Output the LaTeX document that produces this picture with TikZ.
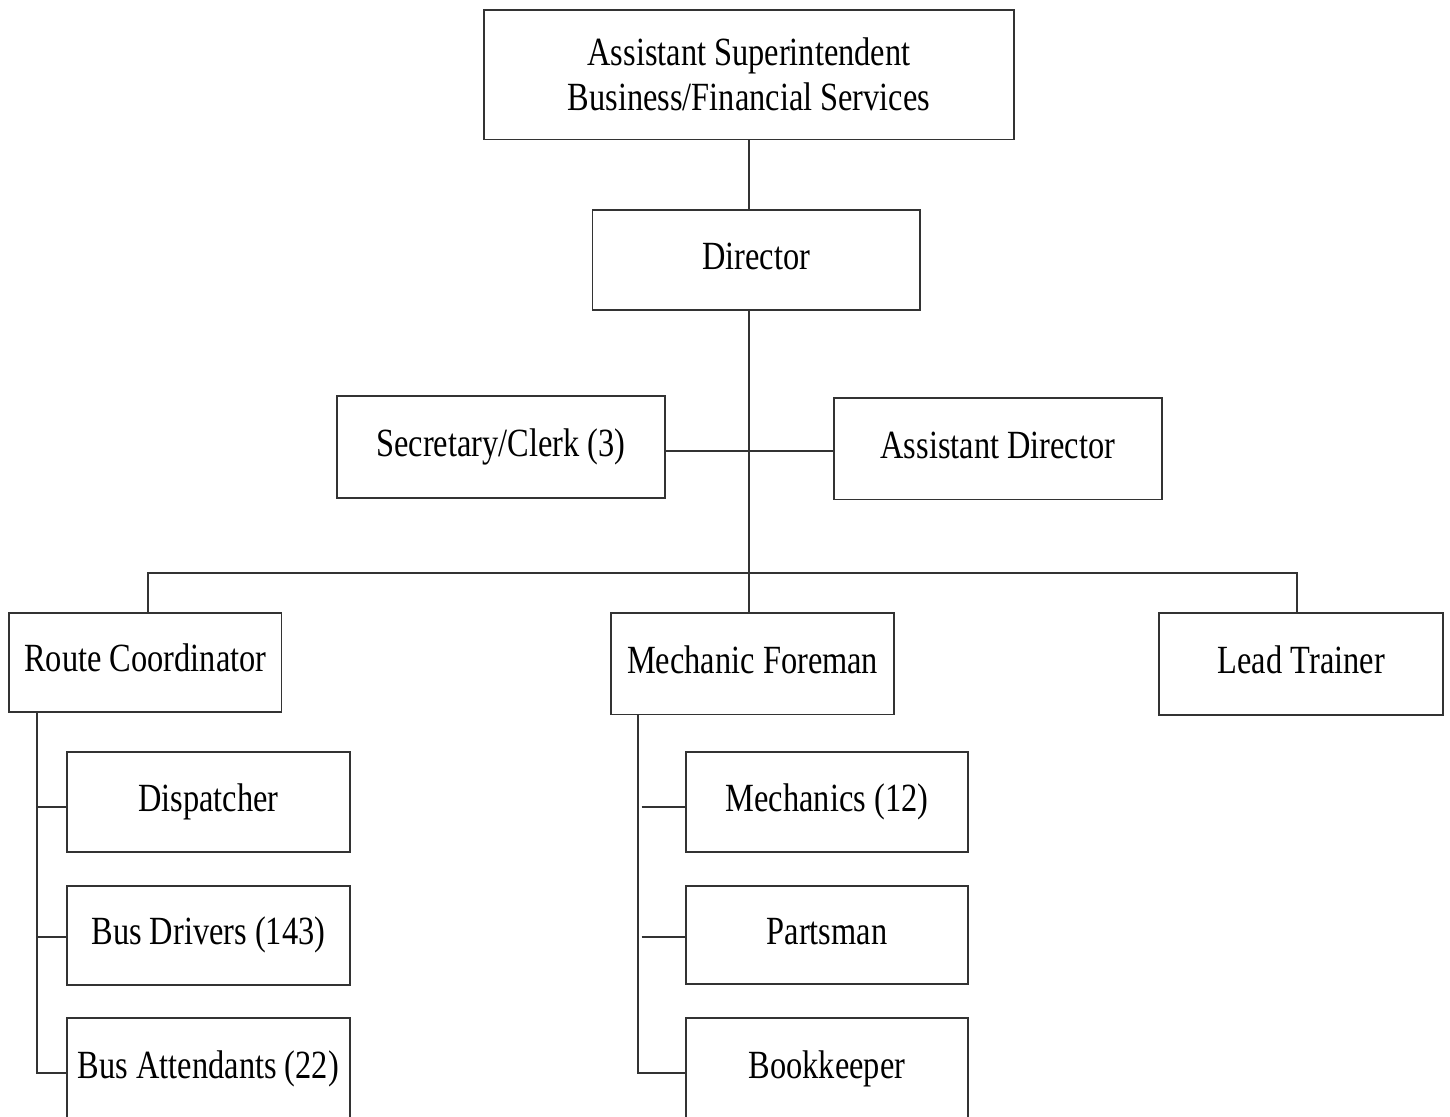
\documentclass[tikz,border=0pt]{standalone}
\usepackage{fontspec}
\setmainfont{Liberation Serif}[FakeStretch=0.81]
\usetikzlibrary{calc}
\begin{document}
\begin{tikzpicture}[x=1pt,y=-1pt,
  box/.style={draw=black!80,line width=1.8pt,rectangle,inner sep=0pt,outer sep=0pt,
    font=\fontsize{40}{45}\selectfont},
  unit/.style={box,text height=19pt,text depth=0pt},
  wide/.style={minimum width=327.5pt},
  sub/.style={minimum width=282.4pt,minimum height=100pt},
  wire/.style={draw=black!80,line width=1.8pt}]
\useasboundingbox (0,0) rectangle (1450,1116);
\fill[white] (0,0) rectangle (1450,1116);

% top of the chart
\node[box,align=center,minimum width=530pt,minimum height=129.5pt] (top) at (749,74.75)
  {Assistant Superintendent\\Business/Financial Services};
\node[unit,wide,minimum height=100pt] (dir) at (756.25,260) {Director};

% staff level
\node[unit,wide,minimum height=102.3pt] (sec) at (501,446.85) {Secretary/Clerk (3)};
\node[unit,wide,minimum height=101.2pt] (ad) at (997.9,448.9) {Assistant Director};

% department heads
\node[unit,minimum width=272.2pt,minimum height=99pt] (rc) at (145.4,662.2) {Route Coordinator};
\node[unit,minimum width=283.3pt,minimum height=101.8pt] (mf) at (752.65,663.6) {Mechanic Foreman};
\node[unit,minimum width=284pt,minimum height=102.3pt] (lt) at (1301.3,663.85) {Lead Trainer};

% transportation staff
\node[unit,sub] (disp) at (208.4,801.7) {Dispatcher};
\node[unit,sub,minimum height=99.3pt] (bd) at (208.4,935.35) {Bus Drivers (143)};
\node[unit,sub,minimum height=101.7pt] (ba) at (208.4,1069.15) {Bus Attendants (22)};

% garage staff
\node[unit,sub] (mech) at (827,801.7) {Mechanics (12)};
\node[unit,sub,minimum height=98.6pt] (parts) at (827,935) {Partsman};
\node[unit,sub,minimum height=101.7pt] (book) at (827,1069.15) {Bookkeeper};

% junction points
\coordinate (mid) at (749,451);
\coordinate (rcdrop) at (147.7,572.7);
\coordinate (ltdrop) at (1297.3,572.7);
\coordinate (rcspine) at (36.7,0);
\coordinate (mfspine) at (638.3,0);

% main trunk
\draw[wire] (top.south) -- (top.south |- dir.north);
\draw[wire] (top.south |- dir.south) -- (top.south |- mf.north);
\draw[wire] (sec.east |- mid) -- (ad.west |- mid);
\draw[wire] (rcdrop |- rc.north) -- (rcdrop) -- (ltdrop) -- (ltdrop |- lt.north);

% route coordinator branch
\draw[wire] (rcspine |- rc.south) -- ($(rcspine |- ba.west)+(0,4.2)$) -- ($(ba.west)+(0,4.2)$);
\draw[wire] ($(rcspine |- disp.west)+(0,5)$) -- ($(disp.west)+(0,5)$);
\draw[wire] ($(rcspine |- bd.west)+(0,2)$) -- ($(bd.west)+(0,2)$);

% mechanic foreman branch
\draw[wire] (mfspine |- mf.south) -- ($(mfspine |- book.west)+(0,4.2)$) -- ($(book.west)+(0,4.2)$);
\draw[wire] ($(mfspine |- mech.west)+(3.4,5)$) -- ($(mech.west)+(0,5)$);
\draw[wire] ($(mfspine |- parts.west)+(3.4,2.3)$) -- ($(parts.west)+(0,2.3)$);
\end{tikzpicture}
\end{document}
